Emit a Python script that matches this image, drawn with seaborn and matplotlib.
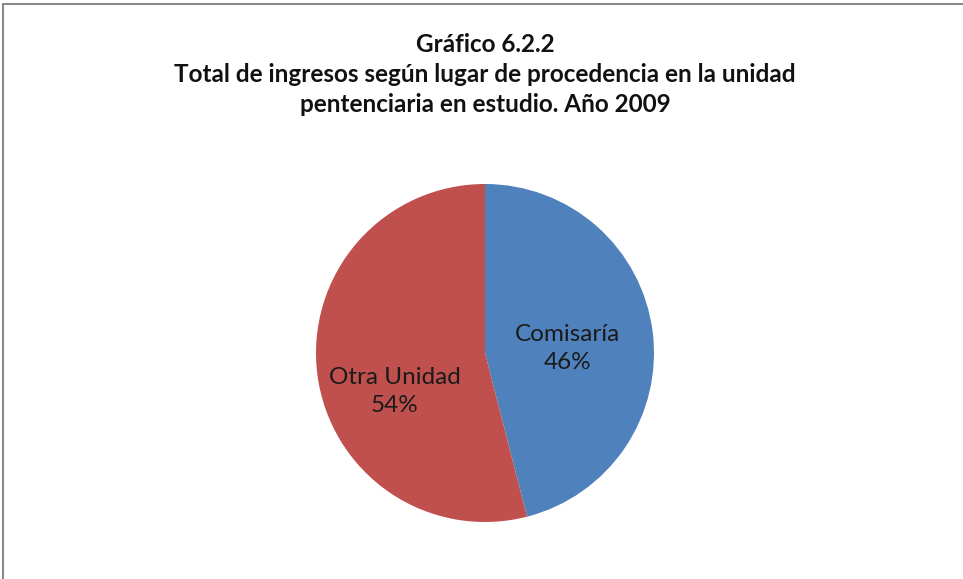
import matplotlib
matplotlib.use("Agg")
import matplotlib.pyplot as plt
import numpy as np
import seaborn as sns
from matplotlib.lines import Line2D

sns.set_style("white")
plt.rcParams['font.family'] = ['Lato', 'DejaVu Sans']

# Data
categories = ['Comisaría', 'Otra Unidad']
shares = [46, 54]
colors = ['#4F81BD', '#C0504D']

# label placement (distance from centre as fraction of radius, angle shift in degrees)
label_dist = [0.49, 0.58]
label_shift = [-4, 16]

W, H = 963, 579
fig = plt.figure(figsize=(W / 100, H / 100), dpi=100)

# pie axes: centre (485, 353), radius ~169 px
r = 169
cx, cy = 485, 353
ax = fig.add_axes([(cx - r) / W, 1 - (cy + r) / H, 2 * r / W, 2 * r / H])
wedges, _ = ax.pie(shares, colors=colors, startangle=90, counterclock=False,
                   radius=1, wedgeprops=dict(linewidth=0))
ax.set_xlim(-1, 1)
ax.set_ylim(-1, 1)
ax.set_aspect('auto')
ax.axis('off')

for w, name, val, d, s in zip(wedges, categories, shares, label_dist, label_shift):
    ang = np.deg2rad((w.theta1 + w.theta2) / 2 + s)
    ax.text(d * np.cos(ang), d * np.sin(ang), f'{name}\n{val}%',
            ha='center', va='center', fontsize=17.5, color='#1a1a1a',
            linespacing=1.4)

title_kw = dict(ha='center', va='center', fontsize=17.5, fontweight='bold', color='#111111')
fig.text(485 / W, 1 - 45 / H, 'Gráfico 6.2.2', **title_kw)
fig.text(485 / W, 1 - 75 / H, 'Total de ingresos según lugar de procedencia en la unidad', **title_kw)
fig.text(485 / W, 1 - 104 / H, 'pentenciaria en estudio. Año 2009', **title_kw)

# frame: only top and left edges are visible
fig.add_artist(Line2D([3 / W, 1], [1 - 4 / H, 1 - 4 / H], color='#888888', lw=1.5))
fig.add_artist(Line2D([3 / W, 3 / W], [0, 1 - 4 / H], color='#888888', lw=1.5))

fig.savefig('out.png', dpi=100, facecolor='white')
